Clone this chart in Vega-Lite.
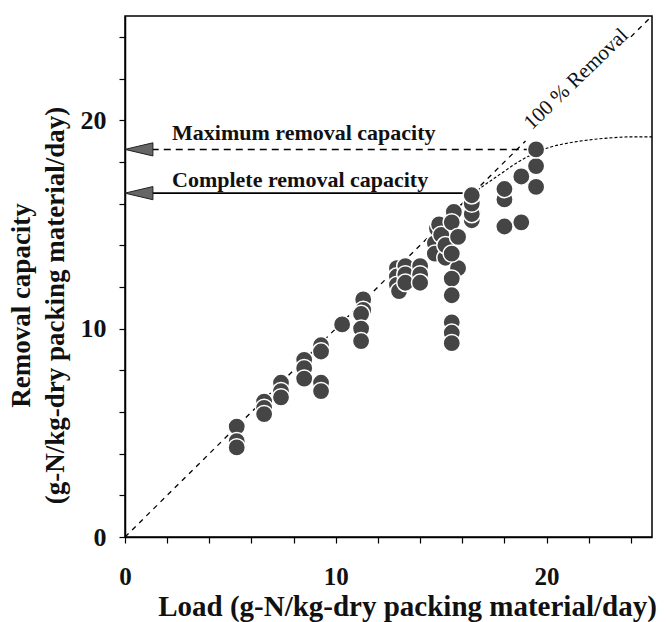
{
  "$schema": "https://vega.github.io/schema/vega-lite/v6.json",
  "width": 527,
  "height": 521,
  "autosize": {"type": "none"},
  "padding": {"left": 125, "top": 16, "right": 14, "bottom": 85},
  "background": "white",
  "config": {
    "view": {"stroke": "black", "strokeWidth": 1.5},
    "font": "Liberation Serif"
  },
  "datasets": {
    "points": [
      {"load": 5.3, "removal": 5.3}, {"load": 5.3, "removal": 4.6}, {"load": 5.3, "removal": 4.3},
      {"load": 6.6, "removal": 6.5}, {"load": 6.6, "removal": 6.2}, {"load": 6.6, "removal": 5.9},
      {"load": 7.4, "removal": 7.4}, {"load": 7.4, "removal": 7.0}, {"load": 7.4, "removal": 6.7},
      {"load": 8.5, "removal": 8.5}, {"load": 8.5, "removal": 8.1}, {"load": 8.5, "removal": 7.6},
      {"load": 9.3, "removal": 9.2}, {"load": 9.3, "removal": 8.9}, {"load": 9.3, "removal": 7.4}, {"load": 9.3, "removal": 7.0},
      {"load": 10.3, "removal": 10.2},
      {"load": 11.3, "removal": 11.4}, {"load": 11.3, "removal": 10.9}, {"load": 11.2, "removal": 10.7}, {"load": 11.2, "removal": 10.0}, {"load": 11.2, "removal": 9.4},
      {"load": 12.9, "removal": 12.9}, {"load": 12.9, "removal": 12.5}, {"load": 12.9, "removal": 12.1}, {"load": 13.0, "removal": 11.8},
      {"load": 13.3, "removal": 13.0}, {"load": 13.3, "removal": 12.6}, {"load": 13.3, "removal": 12.2},
      {"load": 14.0, "removal": 13.0}, {"load": 14.0, "removal": 12.6}, {"load": 14.0, "removal": 12.2},
      {"load": 14.7, "removal": 14.1}, {"load": 14.7, "removal": 13.6}, {"load": 14.8, "removal": 14.8}, {"load": 14.9, "removal": 15.0},
      {"load": 15.0, "removal": 14.5}, {"load": 15.2, "removal": 13.4}, {"load": 15.2, "removal": 14.0},
      {"load": 15.6, "removal": 15.6}, {"load": 15.5, "removal": 15.1}, {"load": 15.8, "removal": 14.4}, {"load": 15.8, "removal": 12.9},
      {"load": 15.5, "removal": 13.6}, {"load": 15.5, "removal": 12.4}, {"load": 15.5, "removal": 11.6},
      {"load": 15.5, "removal": 10.3}, {"load": 15.5, "removal": 9.8}, {"load": 15.5, "removal": 9.3},
      {"load": 16.45, "removal": 15.2}, {"load": 16.45, "removal": 15.5}, {"load": 16.45, "removal": 16.0}, {"load": 16.45, "removal": 16.4},
      {"load": 18.0, "removal": 14.9}, {"load": 18.0, "removal": 16.2}, {"load": 18.0, "removal": 16.7},
      {"load": 18.8, "removal": 15.1}, {"load": 18.8, "removal": 17.3},
      {"load": 19.5, "removal": 16.8}, {"load": 19.5, "removal": 17.8}, {"load": 19.5, "removal": 18.6}
    ],
    "diag": [
      {"load": 0, "removal": 0, "seg": "a"}, {"load": 19.0, "removal": 19.0, "seg": "a"},
      {"load": 24.0, "removal": 24.0, "seg": "b"}, {"load": 25, "removal": 25, "seg": "b"}
    ],
    "curve": [
      {"load": 15.5, "removal": 15.5}, {"load": 16.5, "removal": 16.45}, {"load": 17.0, "removal": 16.85},
      {"load": 17.5, "removal": 17.2}, {"load": 18.0, "removal": 17.55}, {"load": 18.5, "removal": 17.9},
      {"load": 19.0, "removal": 18.2}, {"load": 19.5, "removal": 18.45}, {"load": 20.0, "removal": 18.65},
      {"load": 21.0, "removal": 18.9}, {"load": 22.0, "removal": 19.05}, {"load": 23.0, "removal": 19.15},
      {"load": 24.0, "removal": 19.2}, {"load": 25.0, "removal": 19.2}
    ],
    "hmax": [{"load": 0.7, "removal": 18.6}, {"load": 19.2, "removal": 18.6}],
    "hcomp": [{"load": 0.7, "removal": 16.5}, {"load": 16.3, "removal": 16.5}],
    "arrows": [{"load": 0.66, "removal": 18.6}, {"load": 0.66, "removal": 16.5}],
    "labels": [
      {"load": 2.23, "removal": 19.05, "text": "Maximum removal capacity"},
      {"load": 2.23, "removal": 16.8, "text": "Complete removal capacity"}
    ],
    "diaglabel": [{"load": 19.3, "removal": 19.5, "text": "100 % Removal"}]
  },
  "layer": [
    {
      "data": {"name": "diag"},
      "mark": {"type": "line", "color": "black", "strokeWidth": 1.3, "strokeDash": [5, 5]},
      "encoding": {
        "x": {
          "field": "load", "type": "quantitative",
          "scale": {"domain": [0, 25], "nice": false, "zero": false},
          "axis": {
            "values": [0,1,2,3,4,5,6,7,8,9,10,11,12,13,14,15,16,17,18,19,20,21,22,23,24,25],
            "labelExpr": "datum.value % 5 === 0 ? datum.label : ''",
            "labelOverlap": false,
            "grid": false, "domain": true, "domainColor": "black", "domainWidth": 1.5,
            "ticks": true, "tickColor": "black", "tickWidth": 1.2, "tickSize": 6,
            "labelFont": "Liberation Serif", "labelFontSize": 25, "labelFontWeight": "bold", "labelColor": "#111",
            "labelPadding": 21,
            "labelFlush": false,
            "title": "Load (g-N/kg-dry packing material/day)",
            "titleFont": "Liberation Serif", "titleFontSize": 29, "titleFontWeight": "bold", "titleColor": "#111",
            "titleX": 282, "titleY": 78, "titleBaseline": "alphabetic", "titleAnchor": "middle", "titleAlign": "center"
          }
        },
        "y": {
          "field": "removal", "type": "quantitative",
          "scale": {"domain": [0, 25], "nice": false, "zero": false},
          "axis": {
            "values": [0,1,2,3,4,5,6,7,8,9,10,11,12,13,14,15,16,17,18,19,20,21,22,23,24,25],
            "labelExpr": "datum.value % 5 === 0 ? datum.label : ''",
            "labelOverlap": false,
            "grid": false, "domain": true, "domainColor": "black", "domainWidth": 1.5,
            "ticks": true, "tickColor": "black", "tickWidth": 1.2, "tickSize": 6,
            "labelFont": "Liberation Serif", "labelFontSize": 26, "labelFontWeight": "bold", "labelColor": "#111",
            "labelPadding": 13,
            "labelFlush": false,
            "title": ["Removal capacity", "(g-N/kg-dry packing material/day)"],
            "titleFont": "Liberation Serif", "titleFontSize": 27, "titleFontWeight": "bold", "titleColor": "#111",
            "titleLineHeight": 34,
            "titleX": -96, "titleY": 289, "titleAngle": -90, "titleBaseline": "alphabetic", "titleAlign": "center"
          }
        },
        "detail": {"field": "seg"}
      }
    },
    {
      "data": {"name": "curve"},
      "mark": {"type": "line", "color": "black", "strokeWidth": 1.1, "strokeDash": [3, 2], "interpolate": "monotone"},
      "encoding": {
        "x": {"field": "load", "type": "quantitative"},
        "y": {"field": "removal", "type": "quantitative"}
      }
    },
    {
      "data": {"name": "hmax"},
      "mark": {"type": "line", "color": "black", "strokeWidth": 1.5, "strokeDash": [7, 5]},
      "encoding": {
        "x": {"field": "load", "type": "quantitative"},
        "y": {"field": "removal", "type": "quantitative"}
      }
    },
    {
      "data": {"name": "hcomp"},
      "mark": {"type": "line", "color": "black", "strokeWidth": 1.8},
      "encoding": {
        "x": {"field": "load", "type": "quantitative"},
        "y": {"field": "removal", "type": "quantitative"}
      }
    },
    {
      "data": {"name": "arrows"},
      "mark": {"type": "point", "shape": "M-1,0L1,-0.47L1,0.47Z", "size": 784, "filled": true, "fill": "#666", "stroke": "#222", "strokeWidth": 1, "opacity": 1},
      "encoding": {
        "x": {"field": "load", "type": "quantitative"},
        "y": {"field": "removal", "type": "quantitative"}
      }
    },
    {
      "data": {"name": "points"},
      "mark": {"type": "point", "shape": "circle", "size": 300, "filled": true, "fill": "#454545", "stroke": "white", "strokeWidth": 1.5, "opacity": 1},
      "encoding": {
        "x": {"field": "load", "type": "quantitative"},
        "y": {"field": "removal", "type": "quantitative"}
      }
    },
    {
      "data": {"name": "labels"},
      "mark": {"type": "text", "align": "left", "baseline": "alphabetic", "font": "Liberation Serif", "fontSize": 22, "fontWeight": "bold", "color": "#111"},
      "encoding": {
        "x": {"field": "load", "type": "quantitative"},
        "y": {"field": "removal", "type": "quantitative"},
        "text": {"field": "text"}
      }
    },
    {
      "data": {"name": "diaglabel"},
      "mark": {"type": "text", "align": "left", "baseline": "alphabetic", "angle": -44, "font": "Liberation Serif", "fontSize": 21, "color": "#111"},
      "encoding": {
        "x": {"field": "load", "type": "quantitative"},
        "y": {"field": "removal", "type": "quantitative"},
        "text": {"field": "text"}
      }
    }
  ]
}
